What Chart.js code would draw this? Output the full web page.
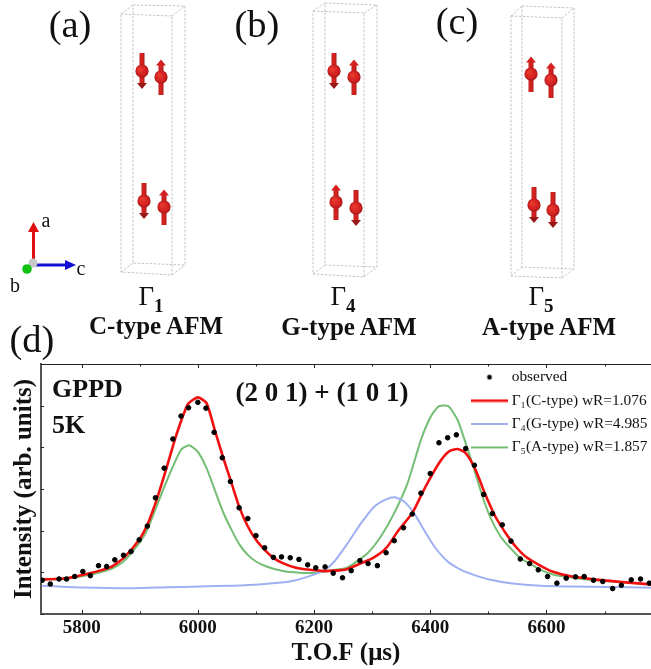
<!DOCTYPE html>
<html>
<head>
<meta charset="utf-8">
<script src="https://cdn.jsdelivr.net/npm/chart.js@4"></script>
<style>
  html, body { margin: 0; padding: 0; background: #fff; }
  #wrap { position: relative; width: 651px; height: 669px; overflow: hidden; font-family: "Liberation Serif", serif; color: #111; }
  #wrap canvas { position: absolute; left: 0; top: 0; }
  .t { position: absolute; transform: translate(-50%, -50%); white-space: nowrap; line-height: 1; }
  .panel { font-size: 38.5px; }
  .axis { font-size: 20px; }
  .gam { font-size: 27px; }
  .gam sub { font-size: 19px; font-weight: bold; vertical-align: -7px; line-height: 0; }
  .b { font-weight: bold; font-size: 25px; }
</style>
</head>
<body>
<div id="wrap">
  <canvas id="chart" width="651" height="669"></canvas>
  <div class="t panel" style="left:70px;top:24px">(a)</div>
  <div class="t panel" style="left:257px;top:24px">(b)</div>
  <div class="t panel" style="left:457px;top:21px">(c)</div>
  <div class="t panel" style="left:32px;top:339px">(d)</div>
  <div class="t axis" style="left:46px;top:220px">a</div>
  <div class="t axis" style="left:81px;top:268px">c</div>
  <div class="t axis" style="left:15px;top:285px">b</div>
  <div class="t gam" style="left:151px;top:296px">Γ<sub>1</sub></div>
  <div class="t gam" style="left:343px;top:296px">Γ<sub>4</sub></div>
  <div class="t gam" style="left:541px;top:296px">Γ<sub>5</sub></div>
  <div class="t b" style="left:156px;top:325px">C-type AFM</div>
  <div class="t b" style="left:349px;top:326px">G-type AFM</div>
  <div class="t b" style="left:549px;top:326px">A-type AFM</div>
  <div class="t b" style="left:87.5px;top:389px;font-size:26px">GPPD</div>
  <div class="t b" style="left:68.5px;top:425px;font-size:26px">5K</div>
  <div class="t b" style="left:322px;top:392px;font-size:27px">(2 0 1) + (1 0 1)</div>
</div>
<script>
// observed points
const obsTof = [5732,5746,5761,5774,5788,5802,5815,5829,5843,5857,5872,5885,5899,5913,5927,5942,5957,5971,5984,6000,6014,6028,6042,6056,6071,6086,6100,6115,6130,6144,6159,6174,6189,6203,6219,6233,6249,6264,6279,6293,6309,6324,6338,6354,6369,6384,6400,6415,6430,6445,6461,6476,6492,6507,6524,6539,6555,6571,6586,6602,6618,6634,6650,6665,6681,6697,6714,6729,6746,6762,6777];
const obsInt = [81,72,84,84,90,102,92,116,114,130,141,150,178,211,279,350,420,475,495,508,494,436,375,318,255,229,188,159,136,137,135,131,118,111,113,98,87,104,128,121,116,147,176,207,240,290,337,411,423,430,397,357,287,241,214,175,132,121,106,90,74,86,89,90,81,78,61,69,82,84,74];

// Gamma 1 fit
const redTof = [5732,5774,5814,5849,5872,5899,5913,5929,5946,5963,5983,6000,6015,6029,6043,6058,6072,6086,6100,6115,6129,6146,6169,6192,6218,6235,6255,6278,6301,6324,6346,6369,6392,6415,6432,6447,6461,6478,6495,6512,6530,6547,6564,6587,6610,6644,6690,6736,6780];
const redInt = [83,86,98,112,134,178,214,274,350,430,504,520,506,442,378,314,254,210,178,154,136,122,111,106,103,104,107,120,134,158,202,242,306,362,390,396,386,346,286,234,194,162,138,118,102,90,82,76,71];

// Gamma 4 fit
const blueTof = [5732,5774,5826,5889,5946,6003,6060,6106,6158,6192,6218,6235,6258,6281,6304,6324,6339,6355,6372,6389,6407,6430,6453,6475,6504,6538,6590,6647,6704,6780];
const blueInt = [68,65,63,62,64,66,68,71,78,91,106,126,170,218,258,275,280,270,242,202,162,126,106,94,82,74,68,66,65,63];

// Gamma 5 fit
const greenTof = [5732,5774,5814,5849,5872,5899,5913,5929,5946,5971,5985,6000,6015,6029,6043,6058,6072,6086,6100,6118,6146,6175,6203,6235,6258,6292,6315,6338,6361,6384,6401,6415,6431,6447,6461,6475,6490,6504,6521,6538,6555,6573,6590,6613,6641,6675,6733,6780];
const greenInt = [82,85,94,107,126,170,202,258,318,394,405,389,350,298,246,202,166,142,126,114,103,99,99,106,112,146,186,242,314,418,474,499,499,466,410,350,282,230,186,158,134,120,106,94,88,82,76,71];

const xTicksStep = 100;
const legendNames = ["observed", "Γ₁(C-type) wR=1.076", "Γ₄(G-type) wR=4.985", "Γ₅(A-type) wR=1.857"];

function pts(xs, ys) {
    return xs.map((x, i) => ({ x: x, y: ys[i] }));
}

// legend samples as small canvases, they can be wider than the legend box
function legendDot() {
    const c = document.createElement("canvas");
    c.width = 8;
    c.height = 8;
    const dc = c.getContext("2d");
    dc.fillStyle = "#000";
    dc.beginPath();
    dc.arc(4, 4, 2.4, 0, Math.PI * 2);
    dc.fill();
    return c;
}

function legendLine(color, h) {
    const c = document.createElement("canvas");
    c.width = 37;
    c.height = 4;
    const dc = c.getContext("2d");
    dc.fillStyle = color;
    dc.fillRect(0, 2 - h / 2, 37, h);
    return c;
}

// crystal cells: front and back rectangles, [x, y] corners
const cells = [
    { front: [[121,14],[172,16],[172,275],[121,272]], back: [[133,5],[185,6],[185,265],[133,263]] },
    { front: [[313,11],[364,13],[364,277],[313,274]], back: [[325,3],[377,5],[377,267],[325,265]] },
    { front: [[511,16],[562,18],[562,278],[511,276]], back: [[522,6],[574,8],[574,269],[522,267]] }
];
// spins: x, y, direction (1 up, -1 down)
const spins = [
    [142,71,-1],[161,77,1],[144,201,-1],[164,207,1],
    [334,71,-1],[354,77,1],[336,202,1],[356,208,-1],
    [531,74,1],[551,80,1],[534,205,-1],[553,210,-1]
];

function drawSpin(ctx, x, y, dir) {
    let grad = ctx.createLinearGradient(x - 3, 0, x + 3, 0);
    grad.addColorStop(0, "#b81e1e");
    grad.addColorStop(0.5, "#dc2420");
    grad.addColorStop(1, "#a01818");
    ctx.fillStyle = grad;
    // the long tail sits opposite to the head
    ctx.fillRect(x - 2.5, dir > 0 ? y - 12 : y - 18, 5, 30);
    ctx.fillStyle = dir > 0 ? "#d42020" : "#981818";
    ctx.beginPath();
    ctx.moveTo(x, dir > 0 ? y - 17.5 : y + 18);
    ctx.lineTo(x - 5, dir > 0 ? y - 11.5 : y + 12);
    ctx.lineTo(x + 5, dir > 0 ? y - 11.5 : y + 12);
    ctx.closePath();
    ctx.fill();
    let ball = ctx.createRadialGradient(x - 2, y - 2, 1, x, y, 6.8);
    ball.addColorStop(0, "#e8382e");
    ball.addColorStop(0.7, "#d02020");
    ball.addColorStop(1, "#a01818");
    ctx.fillStyle = ball;
    ctx.beginPath();
    ctx.arc(x, y, 6.6, 0, Math.PI * 2);
    ctx.fill();
}

function drawArrow(ctx, x1, y1, x2, y2, color, head, half, width) {
    let a = Math.atan2(y2 - y1, x2 - x1);
    let bx = x2 - Math.cos(a) * head, by = y2 - Math.sin(a) * head;
    ctx.strokeStyle = color;
    ctx.lineWidth = width;
    ctx.beginPath();
    ctx.moveTo(x1, y1);
    ctx.lineTo(bx, by);
    ctx.stroke();
    ctx.fillStyle = color;
    ctx.beginPath();
    ctx.moveTo(x2, y2);
    ctx.lineTo(bx - Math.sin(a) * half, by + Math.cos(a) * half);
    ctx.lineTo(bx + Math.sin(a) * half, by - Math.cos(a) * half);
    ctx.closePath();
    ctx.fill();
}

const sketchPlugin = {
    id: "sketch",
    afterLayout(chart) {
        // legend box sits in the top right corner of the plot
        const lg = chart.legend;
        lg.left = 475 - 8;
        lg.right = 651;
        lg.top = 361.5;
        lg.bottom = 614;
    },
    afterDraw(chart) {
        const ctx = chart.ctx;
        ctx.save();
        ctx.strokeStyle = "#b5b5b5";
        ctx.lineWidth = 0.8;
        ctx.setLineDash([2.5, 1.5]);
        cells.forEach(function (c) {
            ctx.beginPath();
            [c.front, c.back].forEach(function (r) {
                r.forEach(function (p, i) {
                    if (i == 0) ctx.moveTo(p[0], p[1]); else ctx.lineTo(p[0], p[1]);
                });
                ctx.closePath();
            });
            c.front.forEach(function (p, i) {
                ctx.moveTo(p[0], p[1]);
                ctx.lineTo(c.back[i][0], c.back[i][1]);
            });
            ctx.stroke();
        });
        ctx.setLineDash([]);
        spins.forEach(function (s) { drawSpin(ctx, s[0], s[1], s[2]); });

        // axes triad
        drawArrow(ctx, 33.5, 263, 33.5, 222, "#e01010", 10, 5.5, 3);
        drawArrow(ctx, 34, 265, 76, 265, "#1010d0", 11, 5, 3);
        ctx.fillStyle = "#c8c8c8";
        ctx.beginPath();
        ctx.arc(33, 263, 4.5, 0, Math.PI * 2);
        ctx.fill();
        ctx.fillStyle = "#12c212";
        ctx.beginPath();
        ctx.arc(27, 269, 4.8, 0, Math.PI * 2);
        ctx.fill();

        // inward ticks, bottom, top and left, plus the top frame line
        const a = chart.chartArea;
        const xs = chart.scales.x, ys = chart.scales.y;
        ctx.strokeStyle = "#222";
        ctx.lineWidth = 1;
        ctx.beginPath();
        ctx.moveTo(a.left, a.top + 0.5);
        ctx.lineTo(a.right, a.top + 0.5);
        xs.ticks.forEach(function (t) {
            let px = Math.round(xs.getPixelForValue(t.value)) + 0.5;
            let len = t.value % 200 == 0 ? 4 : 2.5;
            ctx.moveTo(px, a.bottom);
            ctx.lineTo(px, a.bottom - len);
            ctx.moveTo(px, a.top);
            ctx.lineTo(px, a.top + len);
        });
        ys.ticks.forEach(function (t) {
            let py = Math.round(ys.getPixelForValue(t.value)) + 0.5;
            ctx.moveTo(a.left, py);
            ctx.lineTo(a.left + 3, py);
        });
        ctx.stroke();
        ctx.restore();
    }
};

new Chart(document.getElementById("chart"), {
    type: "scatter",
    plugins: [sketchPlugin],
    data: {
        datasets: [
            { label: legendNames[0], data: pts(obsTof, obsInt), backgroundColor: "#000", borderColor: "#000", pointRadius: 2.3, pointStyle: "circle", showLine: false },
            { label: legendNames[1], data: pts(redTof, redInt), borderColor: "#f01010", borderWidth: 2.6, pointRadius: 0, showLine: true, tension: 0.2, backgroundColor: "#f01010" },
            { label: legendNames[2], data: pts(blueTof, blueInt), borderColor: "#9fb0f2", borderWidth: 2, pointRadius: 0, showLine: true, tension: 0.2, backgroundColor: "#9fb0f2" },
            { label: legendNames[3], data: pts(greenTof, greenInt), borderColor: "#74bd74", borderWidth: 2, pointRadius: 0, showLine: true, tension: 0.2, backgroundColor: "#74bd74" }
        ]
    },
    options: {
        responsive: false,
        animation: false,
        layout: { padding: { top: 364 }, autoPadding: false },
        plugins: {
            tooltip: { enabled: false },
            legend: {
                position: "chartArea",
                align: "start",
                labels: {
                    usePointStyle: true,
                    pointStyleWidth: 29,
                    padding: 8,
                    color: "#111",
                    font: { family: "Liberation Serif", size: 15.4 },
                    generateLabels: function (chart) {
                        let items = Chart.defaults.plugins.legend.labels.generateLabels(chart);
                        items[0].pointStyle = legendDot();
                        items[1].pointStyle = legendLine("#f01010", 2.6);
                        items[2].pointStyle = legendLine("#9fb0f2", 2);
                        items[3].pointStyle = legendLine("#74bd74", 2);
                        return items;
                    }
                }
            }
        },
        scales: {
            x: {
                type: "linear",
                min: 5730,
                max: 6780,
                grid: { display: false, drawTicks: false },
                border: { display: true, color: "#555", width: 2 },
                afterFit: function (s) { s.height = 55; },
                ticks: {
                    stepSize: xTicksStep,
                    includeBounds: false,
                    autoSkip: false,
                    maxRotation: 0,
                    padding: 3,
                    color: "#111",
                    font: { family: "Liberation Serif", size: 19, weight: "bold" },
                    callback: function (v) { return v % 200 == 0 ? String(v) : ""; }
                },
                title: {
                    display: true,
                    text: "T.O.F (μs)",
                    color: "#111",
                    font: { family: "Liberation Serif", size: 25, weight: "bold" },
                    padding: { top: 0, bottom: 0 }
                }
            },
            y: {
                type: "linear",
                min: 0,
                max: 600,
                grid: { display: false, drawTicks: false },
                border: { display: true, color: "#555", width: 2 },
                afterFit: function (s) { s.width = 41; },
                ticks: { display: false, stepSize: 100 },
                title: {
                    display: true,
                    text: "Intensity (arb. units)",
                    color: "#111",
                    font: { family: "Liberation Serif", size: 25, weight: "bold" },
                    padding: { top: 10, bottom: 0 }
                }
            }
        }
    }
});
</script>
</body>
</html>
